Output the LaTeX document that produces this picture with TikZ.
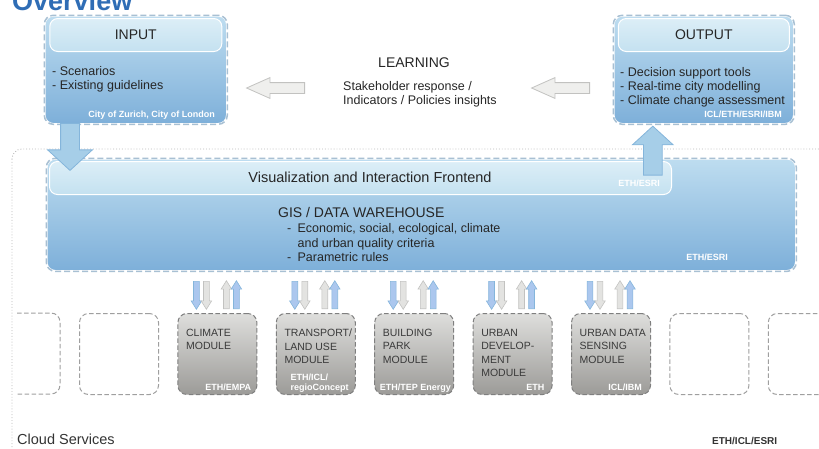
\documentclass[tikz,border=0pt]{standalone}
\usepackage{fontspec}
\setmainfont{Liberation Sans}
\usetikzlibrary{positioning,shapes.arrows}

\definecolor{paneltop}{HTML}{BEDDF0}
\definecolor{panelbot}{HTML}{7DAFD9}
\definecolor{paneledge}{HTML}{A8C0D3}
\definecolor{headtop}{HTML}{DCEEF7}
\definecolor{headbot}{HTML}{C4E1F0}
\definecolor{modtop}{HTML}{DEDEDC}
\definecolor{modbot}{HTML}{9C9B98}
\definecolor{modedge}{HTML}{7F7F7F}
\definecolor{modtext}{HTML}{3A3A3A}
\definecolor{flowblue}{HTML}{A6CEE8}
\definecolor{flowblueedge}{HTML}{84B5DB}
\definecolor{flowgrey}{HTML}{EFEFED}
\definecolor{flowgreyedge}{HTML}{C2C2C0}
\definecolor{titleblue}{HTML}{2F6DB5}

\begin{document}
\begin{tikzpicture}[x=1pt,y=1pt,
		every node/.append style={inner sep=0pt},
		panel/.style={rounded corners=9pt, draw=white, line width=2.6pt,
				top color=paneltop, bottom color=panelbot,
				postaction={draw=paneledge, line width=1.5pt, dash pattern=on 6pt off 3pt}},
		header/.style={rounded corners=8pt, draw=white, line width=1pt,
				top color=headtop, bottom color=headbot, text=black!85,
				font=\fontsize{14}{16}\selectfont},
		items/.style={align=left, text=black!85, font=\fontsize{12.5}{14}\selectfont},
		credit/.style={text depth=0pt, text=white, align=left,
				font=\bfseries\fontsize{9}{10.5}\selectfont},
		module/.style={rounded corners=9pt, draw=modedge, line width=1pt,
				dash pattern=on 4.5pt off 2.5pt, top color=modtop, bottom color=modbot,
				minimum width=79pt, minimum height=81pt},
		blank/.style={module, top color=white, bottom color=white, draw=modedge!75},
		modtitle/.style={align=left, text=modtext, font=\fontsize{10.5}{13.3}\selectfont},
		bigblue/.style={single arrow, fill=flowblue, draw=flowblueedge, line width=0.8pt,
				inner xsep=0pt, inner ysep=9pt, single arrow head extend=13pt,
				single arrow tip angle=95},
		biggrey/.style={single arrow, fill=flowgrey, draw=flowgreyedge, line width=0.8pt,
				minimum height=58pt, inner xsep=0pt, inner ysep=5pt,
				single arrow head extend=5pt, single arrow tip angle=48},
		smallflow/.style={single arrow, line width=0.6pt, minimum height=28pt,
				inner xsep=0pt, inner ysep=2.6pt, single arrow head extend=2.4pt,
				single arrow tip angle=64},
		blueflow/.style={smallflow, fill=flowblue!90!blue!80!white, draw=flowblueedge},
		greyflow/.style={smallflow, fill=flowgrey!95!black, draw=flowgreyedge}
	]
	\useasboundingbox (0,0) rectangle (819,-448);
	\node[anchor=base west, text=titleblue, font=\bfseries\fontsize{27}{30}\selectfont] (title) at (12,-10) {Overview};

	% cloud layer
	\draw[gray!55, dotted, line width=0.9pt, rounded corners=10pt] (12,-149) rectangle (850,-480);
	\node[anchor=west, font=\fontsize{14.5}{16}\selectfont, text=black!80] (cloud) at (17,-439) {Cloud Services};
	\node[anchor=west, font=\bfseries\fontsize{10}{12}\selectfont, text=black!80] (cloudcredit) at (712,-441) {ETH/ICL/ESRI};

	% input and output
	\node[panel, minimum width=183pt, minimum height=109pt, anchor=north west] (input) at (43,-14) {};
	\node[header, minimum width=172pt, minimum height=33pt, anchor=north] (inhead) at ([yshift=-4pt]input.north) {INPUT};
	\node[items, anchor=north west] (inlist) at (52,-66.5) {- Scenarios\\- Existing guidelines};
	\node[credit, anchor=south east] (incredit) at (215,-118) {City of Zurich, City of London};

	\node[panel, minimum width=181pt, minimum height=109pt, anchor=north west] (output) at (612,-14) {};
	\node[header, minimum width=171pt, minimum height=33pt, anchor=north] (outhead) at ([yshift=-4pt]output.north) {OUTPUT};
	\node[items, anchor=north west] (outlist) at (620,-67.5) {- Decision support tools\\- Real-time city modelling\\- Climate change assessment};
	\node[credit, anchor=south east] (outcredit) at (782,-118) {ICL/ETH/ESRI/IBM};

	% learning
	\node[font=\fontsize{14}{16}\selectfont, text=black!85] (learning) at (414,-63) {LEARNING};
	\node[items, anchor=north west] (insight) at (343,-81) {Stakeholder response /\\Indicators / Policies insights};
	\node[biggrey, rotate=180, anchor=tail] (toinput) at (305,-88) {};
	\node[biggrey, rotate=180, anchor=tail] (tolearning) at (590,-88) {};

	% warehouse
	\node[panel, minimum width=750pt, minimum height=113pt, anchor=north west] (gis) at (45,-157) {};
	\node[header, minimum width=622pt, minimum height=33pt, anchor=north west] (vis) at (49,-161) {};
	\node[font=\fontsize{14.5}{16}\selectfont, text=black!85] (vistext) at (370,-177) {Visualization and Interaction Frontend};
	\node[credit, anchor=south east] (viscredit) at (660,-187) {ETH/ESRI};
	\node[anchor=west, font=\fontsize{14}{16}\selectfont, text=black!85] (gistitle) at (278,-212) {GIS / DATA WAREHOUSE};
	\node[items, anchor=north west, font=\fontsize{12.5}{14.5}\selectfont] (gislist) at (287,-223.7) {-\enspace Economic, social, ecological, climate\\\phantom{-\enspace}and urban quality criteria\\-\enspace Parametric rules};
	\node[credit, anchor=south east] (giscredit) at (728,-261) {ETH/ESRI};

	\node[bigblue, minimum height=47pt, rotate=-90, anchor=tail] (down) at (70,-123) {};
	\node[bigblue, minimum height=49pt, single arrow head extend=11pt, rotate=90, anchor=tip] (up) at ([xshift=-51pt]output.south) {};

	% modules
	\draw[modedge!75, line width=1pt, dash pattern=on 4.5pt off 2.5pt, rounded corners=9pt] (17,-313) -- (60,-313) -- (60,-394) -- (17,-394);
	\node[blank, anchor=north west] (blank1) at (79,-313) {};
	\node[module, right=18.4pt of blank1] (climate) {};
	\node[module, right=18.4pt of climate] (transport) {};
	\node[module, right=18.4pt of transport] (building) {};
	\node[module, right=18.4pt of building] (urbandev) {};
	\node[module, right=18.4pt of urbandev] (sensing) {};
	\node[blank, right=18.4pt of sensing] (blank2) {};
	\node[blank, right=18.4pt of blank2] (blank3) {};

	\node[modtitle, anchor=north west] (climatetxt) at ([xshift=8.5pt,yshift=-16pt]climate.north west) {CLIMATE\\MODULE};
	\node[modtitle, anchor=north west] (transporttxt) at ([xshift=8.5pt,yshift=-16pt]transport.north west) {TRANSPORT/\\LAND USE\\MODULE};
	\node[modtitle, anchor=north west] (buildingtxt) at ([xshift=8.5pt,yshift=-16pt]building.north west) {BUILDING\\PARK\\MODULE};
	\node[modtitle, anchor=north west] (urbandevtxt) at ([xshift=8.5pt,yshift=-16pt]urbandev.north west) {URBAN\\DEVELOP-\\MENT\\MODULE};
	\node[modtitle, anchor=north west] (sensingtxt) at ([xshift=8.5pt,yshift=-16pt]sensing.north west) {URBAN DATA\\SENSING\\MODULE};

	\node[credit, anchor=south east] (climatecr) at ([xshift=-6pt,yshift=4pt]climate.south east) {ETH/EMPA};
	\node[credit, anchor=south east] (transportcr) at ([xshift=-7pt,yshift=4pt]transport.south east) {ETH/ICL/\\regioConcept};
	\node[credit, anchor=south east] (buildingcr) at ([xshift=-3pt,yshift=4pt]building.south east) {ETH/TEP Energy};
	\node[credit, anchor=south east] (urbandevcr) at ([xshift=-8pt,yshift=4pt]urbandev.south east) {ETH};
	\node[credit, anchor=south east] (sensingcr) at ([xshift=-9pt,yshift=4pt]sensing.south east) {ICL/IBM};

	\foreach \m in {climate,transport,building,urbandev,sensing}{
		\node[blueflow, rotate=-90, anchor=tail] (\m-a) at ([xshift=19pt,yshift=32pt]\m.north west) {};
		\node[greyflow, rotate=-90, anchor=tail] (\m-b) at ([xshift=29pt,yshift=32pt]\m.north west) {};
		\node[greyflow, rotate=90, anchor=tail] (\m-c) at ([xshift=49pt,yshift=4pt]\m.north west) {};
		\node[blueflow, rotate=90, anchor=tail] (\m-d) at ([xshift=59pt,yshift=4pt]\m.north west) {};
	}
\end{tikzpicture}
\end{document}
